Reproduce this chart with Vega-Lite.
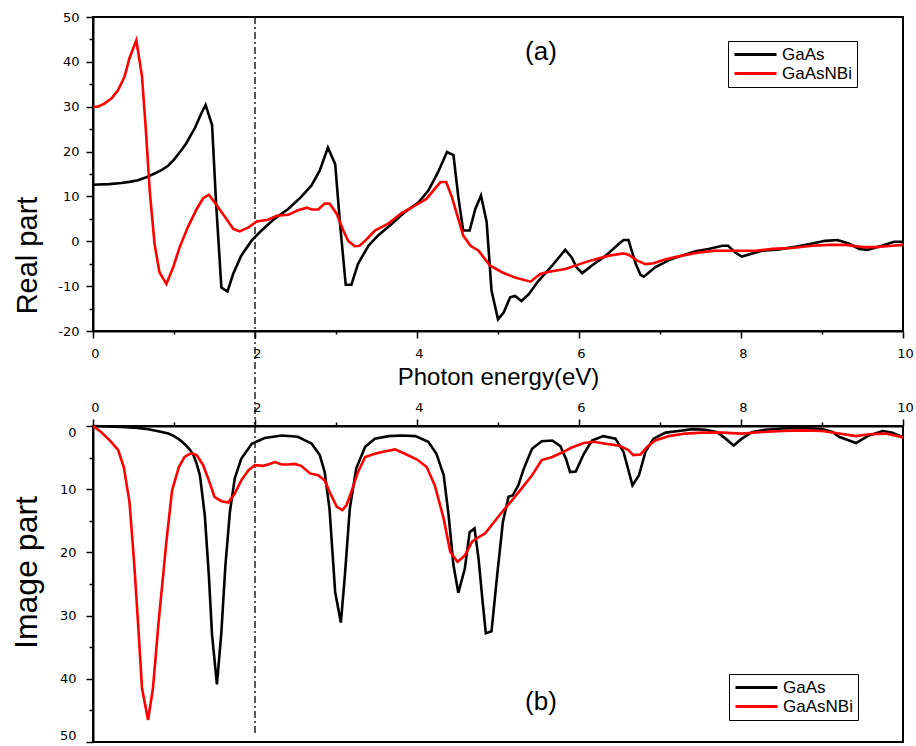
{
  "$schema": "https://vega.github.io/schema/vega-lite/v6.json",
  "padding": {"left": 8, "top": 10, "right": 6, "bottom": 2},
  "background": "white",
  "bounds": "flush",
  "spacing": 95,
  "resolve": {"legend": {"color": "independent"}, "scale": {"y": "independent"}},
  "config": {
    "view": {"stroke": "black", "strokeWidth": 2},
    "axis": {
      "domainColor": "black", "domainWidth": 2, "tickColor": "black", "tickWidth": 1.5,
      "labelColor": "black", "labelFont": "DejaVu Sans", "labelFontSize": 13,
      "titleColor": "black", "titleFont": "Liberation Sans", "titleFontWeight": "normal",
      "grid": false, "labelOverlap": false
    },
    "legend": {
      "orient": "none", "title": null, "symbolType": "M-3,0H3", "symbolSize": 196,
      "symbolOffset": 14, "symbolStrokeWidth": 3, "labelFont": "Liberation Sans", "labelFontSize": 17,
      "labelColor": "black", "strokeColor": "black", "fillColor": "white",
      "padding": 5, "rowPadding": 1, "labelOffset": 18
    }
  },
  "datasets": {
    "real": [
      {"x":0,"y":12.6,"m":"GaAs"},{"x":0.2,"y":12.75,"m":"GaAs"},{"x":0.35,"y":13.0,"m":"GaAs"},{"x":0.45,"y":13.25,"m":"GaAs"},{"x":0.556,"y":13.6,"m":"GaAs"},{"x":0.65,"y":14.2,"m":"GaAs"},{"x":0.76,"y":15.1,"m":"GaAs"},{"x":0.85,"y":15.9,"m":"GaAs"},{"x":0.93,"y":16.9,"m":"GaAs"},{"x":1.0,"y":18.2,"m":"GaAs"},{"x":1.09,"y":20.3,"m":"GaAs"},{"x":1.15,"y":21.8,"m":"GaAs"},{"x":1.21,"y":23.7,"m":"GaAs"},{"x":1.26,"y":25.3,"m":"GaAs"},{"x":1.30,"y":27.0,"m":"GaAs"},{"x":1.34,"y":28.6,"m":"GaAs"},{"x":1.39,"y":30.4,"m":"GaAs"},{"x":1.47,"y":25.9,"m":"GaAs"},{"x":1.52,"y":8.4,"m":"GaAs"},{"x":1.585,"y":-10.3,"m":"GaAs"},{"x":1.66,"y":-11.2,"m":"GaAs"},{"x":1.73,"y":-7.3,"m":"GaAs"},{"x":1.83,"y":-3.2,"m":"GaAs"},{"x":1.96,"y":0.2,"m":"GaAs"},{"x":2.08,"y":2.4,"m":"GaAs"},{"x":2.24,"y":5.0,"m":"GaAs"},{"x":2.41,"y":7.2,"m":"GaAs"},{"x":2.57,"y":9.9,"m":"GaAs"},{"x":2.70,"y":12.5,"m":"GaAs"},{"x":2.80,"y":15.8,"m":"GaAs"},{"x":2.90,"y":20.9,"m":"GaAs"},{"x":2.99,"y":17.2,"m":"GaAs"},{"x":3.05,"y":3.9,"m":"GaAs"},{"x":3.12,"y":-9.7,"m":"GaAs"},{"x":3.19,"y":-9.7,"m":"GaAs"},{"x":3.27,"y":-5.1,"m":"GaAs"},{"x":3.40,"y":-1.0,"m":"GaAs"},{"x":3.52,"y":1.3,"m":"GaAs"},{"x":3.69,"y":3.9,"m":"GaAs"},{"x":3.85,"y":6.5,"m":"GaAs"},{"x":4.02,"y":8.7,"m":"GaAs"},{"x":4.14,"y":11.3,"m":"GaAs"},{"x":4.26,"y":15.4,"m":"GaAs"},{"x":4.37,"y":19.9,"m":"GaAs"},{"x":4.45,"y":19.2,"m":"GaAs"},{"x":4.51,"y":9.9,"m":"GaAs"},{"x":4.57,"y":2.4,"m":"GaAs"},{"x":4.65,"y":2.4,"m":"GaAs"},{"x":4.72,"y":7.2,"m":"GaAs"},{"x":4.79,"y":10.2,"m":"GaAs"},{"x":4.86,"y":4.3,"m":"GaAs"},{"x":4.92,"y":-11.0,"m":"GaAs"},{"x":5.00,"y":-17.4,"m":"GaAs"},{"x":5.07,"y":-15.9,"m":"GaAs"},{"x":5.15,"y":-12.5,"m":"GaAs"},{"x":5.21,"y":-12.2,"m":"GaAs"},{"x":5.29,"y":-13.3,"m":"GaAs"},{"x":5.38,"y":-11.8,"m":"GaAs"},{"x":5.50,"y":-8.8,"m":"GaAs"},{"x":5.67,"y":-5.4,"m":"GaAs"},{"x":5.83,"y":-1.9,"m":"GaAs"},{"x":5.91,"y":-3.6,"m":"GaAs"},{"x":5.97,"y":-5.8,"m":"GaAs"},{"x":6.04,"y":-7.1,"m":"GaAs"},{"x":6.16,"y":-5.4,"m":"GaAs"},{"x":6.33,"y":-3.2,"m":"GaAs"},{"x":6.49,"y":-0.6,"m":"GaAs"},{"x":6.55,"y":0.3,"m":"GaAs"},{"x":6.61,"y":0.3,"m":"GaAs"},{"x":6.70,"y":-5.0,"m":"GaAs"},{"x":6.76,"y":-7.5,"m":"GaAs"},{"x":6.80,"y":-7.9,"m":"GaAs"},{"x":6.94,"y":-5.8,"m":"GaAs"},{"x":7.11,"y":-4.2,"m":"GaAs"},{"x":7.27,"y":-3.2,"m":"GaAs"},{"x":7.44,"y":-2.2,"m":"GaAs"},{"x":7.60,"y":-1.7,"m":"GaAs"},{"x":7.77,"y":-1.0,"m":"GaAs"},{"x":7.84,"y":-1.0,"m":"GaAs"},{"x":7.93,"y":-2.5,"m":"GaAs"},{"x":8.01,"y":-3.4,"m":"GaAs"},{"x":8.14,"y":-2.7,"m":"GaAs"},{"x":8.26,"y":-2.1,"m":"GaAs"},{"x":8.47,"y":-1.8,"m":"GaAs"},{"x":8.67,"y":-1.2,"m":"GaAs"},{"x":8.88,"y":-0.5,"m":"GaAs"},{"x":9.04,"y":0.1,"m":"GaAs"},{"x":9.19,"y":0.3,"m":"GaAs"},{"x":9.33,"y":-0.5,"m":"GaAs"},{"x":9.46,"y":-1.7,"m":"GaAs"},{"x":9.56,"y":-1.9,"m":"GaAs"},{"x":9.74,"y":-1.0,"m":"GaAs"},{"x":9.89,"y":-0.1,"m":"GaAs"},{"x":10.0,"y":-0.1,"m":"GaAs"},
      {"x":0,"y":30.0,"m":"GaAsNBi"},{"x":0.06,"y":30.0,"m":"GaAsNBi"},{"x":0.14,"y":30.7,"m":"GaAsNBi"},{"x":0.23,"y":31.9,"m":"GaAsNBi"},{"x":0.31,"y":33.7,"m":"GaAsNBi"},{"x":0.39,"y":36.7,"m":"GaAsNBi"},{"x":0.45,"y":40.8,"m":"GaAsNBi"},{"x":0.535,"y":44.8,"m":"GaAsNBi"},{"x":0.605,"y":36.7,"m":"GaAsNBi"},{"x":0.65,"y":25.5,"m":"GaAsNBi"},{"x":0.70,"y":11.3,"m":"GaAsNBi"},{"x":0.76,"y":-0.6,"m":"GaAsNBi"},{"x":0.82,"y":-6.9,"m":"GaAsNBi"},{"x":0.906,"y":-9.5,"m":"GaAsNBi"},{"x":0.99,"y":-5.8,"m":"GaAsNBi"},{"x":1.07,"y":-1.3,"m":"GaAsNBi"},{"x":1.17,"y":3.1,"m":"GaAsNBi"},{"x":1.28,"y":7.2,"m":"GaAsNBi"},{"x":1.36,"y":9.6,"m":"GaAsNBi"},{"x":1.43,"y":10.4,"m":"GaAsNBi"},{"x":1.50,"y":8.7,"m":"GaAsNBi"},{"x":1.63,"y":5.4,"m":"GaAsNBi"},{"x":1.73,"y":2.8,"m":"GaAsNBi"},{"x":1.81,"y":2.2,"m":"GaAsNBi"},{"x":1.92,"y":3.1,"m":"GaAsNBi"},{"x":2.02,"y":4.4,"m":"GaAsNBi"},{"x":2.16,"y":4.8,"m":"GaAsNBi"},{"x":2.27,"y":5.7,"m":"GaAsNBi"},{"x":2.41,"y":5.9,"m":"GaAsNBi"},{"x":2.53,"y":6.9,"m":"GaAsNBi"},{"x":2.64,"y":7.5,"m":"GaAsNBi"},{"x":2.70,"y":7.1,"m":"GaAsNBi"},{"x":2.78,"y":7.1,"m":"GaAsNBi"},{"x":2.86,"y":8.4,"m":"GaAsNBi"},{"x":2.92,"y":8.4,"m":"GaAsNBi"},{"x":3.01,"y":6.1,"m":"GaAsNBi"},{"x":3.09,"y":2.4,"m":"GaAsNBi"},{"x":3.15,"y":0.1,"m":"GaAsNBi"},{"x":3.23,"y":-1.1,"m":"GaAsNBi"},{"x":3.29,"y":-1.0,"m":"GaAsNBi"},{"x":3.36,"y":0.1,"m":"GaAsNBi"},{"x":3.48,"y":2.4,"m":"GaAsNBi"},{"x":3.65,"y":4.0,"m":"GaAsNBi"},{"x":3.81,"y":6.3,"m":"GaAsNBi"},{"x":3.98,"y":8.0,"m":"GaAsNBi"},{"x":4.12,"y":9.5,"m":"GaAsNBi"},{"x":4.20,"y":11.3,"m":"GaAsNBi"},{"x":4.29,"y":13.2,"m":"GaAsNBi"},{"x":4.36,"y":13.2,"m":"GaAsNBi"},{"x":4.43,"y":9.9,"m":"GaAsNBi"},{"x":4.51,"y":5.0,"m":"GaAsNBi"},{"x":4.57,"y":1.3,"m":"GaAsNBi"},{"x":4.66,"y":-1.0,"m":"GaAsNBi"},{"x":4.76,"y":-2.1,"m":"GaAsNBi"},{"x":4.90,"y":-5.4,"m":"GaAsNBi"},{"x":5.05,"y":-6.9,"m":"GaAsNBi"},{"x":5.21,"y":-8.1,"m":"GaAsNBi"},{"x":5.40,"y":-9.0,"m":"GaAsNBi"},{"x":5.52,"y":-7.3,"m":"GaAsNBi"},{"x":5.63,"y":-6.8,"m":"GaAsNBi"},{"x":5.83,"y":-6.2,"m":"GaAsNBi"},{"x":5.99,"y":-5.2,"m":"GaAsNBi"},{"x":6.16,"y":-4.2,"m":"GaAsNBi"},{"x":6.37,"y":-3.2,"m":"GaAsNBi"},{"x":6.55,"y":-2.7,"m":"GaAsNBi"},{"x":6.61,"y":-3.0,"m":"GaAsNBi"},{"x":6.72,"y":-4.3,"m":"GaAsNBi"},{"x":6.82,"y":-5.1,"m":"GaAsNBi"},{"x":6.92,"y":-4.9,"m":"GaAsNBi"},{"x":7.07,"y":-4.0,"m":"GaAsNBi"},{"x":7.27,"y":-3.2,"m":"GaAsNBi"},{"x":7.48,"y":-2.5,"m":"GaAsNBi"},{"x":7.68,"y":-2.1,"m":"GaAsNBi"},{"x":7.93,"y":-2.1,"m":"GaAsNBi"},{"x":8.18,"y":-2.1,"m":"GaAsNBi"},{"x":8.39,"y":-1.7,"m":"GaAsNBi"},{"x":8.63,"y":-1.5,"m":"GaAsNBi"},{"x":8.88,"y":-1.0,"m":"GaAsNBi"},{"x":9.09,"y":-0.8,"m":"GaAsNBi"},{"x":9.29,"y":-0.8,"m":"GaAsNBi"},{"x":9.50,"y":-1.3,"m":"GaAsNBi"},{"x":9.66,"y":-1.3,"m":"GaAsNBi"},{"x":9.87,"y":-1.0,"m":"GaAsNBi"},{"x":10.0,"y":-0.8,"m":"GaAsNBi"}
    ],
    "imag": [
      {"x":0,"y":0,"m":"GaAs"},{"x":0.2,"y":0.08,"m":"GaAs"},{"x":0.35,"y":0.16,"m":"GaAs"},{"x":0.5,"y":0.25,"m":"GaAs"},{"x":0.65,"y":0.45,"m":"GaAs"},{"x":0.76,"y":0.7,"m":"GaAs"},{"x":0.85,"y":0.95,"m":"GaAs"},{"x":0.93,"y":1.2,"m":"GaAs"},{"x":1.0,"y":1.6,"m":"GaAs"},{"x":1.05,"y":2.0,"m":"GaAs"},{"x":1.1,"y":2.5,"m":"GaAs"},{"x":1.15,"y":3.1,"m":"GaAs"},{"x":1.2,"y":3.8,"m":"GaAs"},{"x":1.24,"y":4.6,"m":"GaAs"},{"x":1.28,"y":6.0,"m":"GaAs"},{"x":1.32,"y":7.8,"m":"GaAs"},{"x":1.38,"y":14.1,"m":"GaAs"},{"x":1.43,"y":23.6,"m":"GaAs"},{"x":1.47,"y":33.1,"m":"GaAs"},{"x":1.53,"y":40.9,"m":"GaAs"},{"x":1.585,"y":32.6,"m":"GaAs"},{"x":1.635,"y":22.0,"m":"GaAs"},{"x":1.69,"y":13.6,"m":"GaAs"},{"x":1.75,"y":8.3,"m":"GaAs"},{"x":1.83,"y":5.2,"m":"GaAs"},{"x":1.96,"y":2.8,"m":"GaAs"},{"x":2.12,"y":1.9,"m":"GaAs"},{"x":2.33,"y":1.5,"m":"GaAs"},{"x":2.53,"y":1.7,"m":"GaAs"},{"x":2.70,"y":2.8,"m":"GaAs"},{"x":2.80,"y":4.6,"m":"GaAs"},{"x":2.86,"y":7.3,"m":"GaAs"},{"x":2.92,"y":13.1,"m":"GaAs"},{"x":2.99,"y":26.3,"m":"GaAs"},{"x":3.06,"y":31.1,"m":"GaAs"},{"x":3.11,"y":23.6,"m":"GaAs"},{"x":3.17,"y":13.1,"m":"GaAs"},{"x":3.25,"y":6.7,"m":"GaAs"},{"x":3.36,"y":3.3,"m":"GaAs"},{"x":3.48,"y":2.0,"m":"GaAs"},{"x":3.65,"y":1.6,"m":"GaAs"},{"x":3.81,"y":1.5,"m":"GaAs"},{"x":3.98,"y":1.6,"m":"GaAs"},{"x":4.14,"y":2.5,"m":"GaAs"},{"x":4.24,"y":4.4,"m":"GaAs"},{"x":4.33,"y":7.8,"m":"GaAs"},{"x":4.39,"y":14.1,"m":"GaAs"},{"x":4.45,"y":22.0,"m":"GaAs"},{"x":4.51,"y":26.4,"m":"GaAs"},{"x":4.59,"y":22.6,"m":"GaAs"},{"x":4.65,"y":16.8,"m":"GaAs"},{"x":4.71,"y":16.2,"m":"GaAs"},{"x":4.76,"y":21.0,"m":"GaAs"},{"x":4.81,"y":27.8,"m":"GaAs"},{"x":4.85,"y":32.8,"m":"GaAs"},{"x":4.92,"y":32.5,"m":"GaAs"},{"x":4.99,"y":23.6,"m":"GaAs"},{"x":5.06,"y":15.2,"m":"GaAs"},{"x":5.13,"y":11.2,"m":"GaAs"},{"x":5.18,"y":11.0,"m":"GaAs"},{"x":5.25,"y":9.4,"m":"GaAs"},{"x":5.32,"y":6.7,"m":"GaAs"},{"x":5.42,"y":3.6,"m":"GaAs"},{"x":5.54,"y":2.4,"m":"GaAs"},{"x":5.67,"y":2.3,"m":"GaAs"},{"x":5.77,"y":3.2,"m":"GaAs"},{"x":5.84,"y":5.2,"m":"GaAs"},{"x":5.89,"y":7.3,"m":"GaAs"},{"x":5.96,"y":7.2,"m":"GaAs"},{"x":6.06,"y":4.4,"m":"GaAs"},{"x":6.16,"y":2.3,"m":"GaAs"},{"x":6.30,"y":1.6,"m":"GaAs"},{"x":6.45,"y":2.0,"m":"GaAs"},{"x":6.55,"y":4.1,"m":"GaAs"},{"x":6.66,"y":9.4,"m":"GaAs"},{"x":6.74,"y":7.8,"m":"GaAs"},{"x":6.82,"y":4.1,"m":"GaAs"},{"x":6.92,"y":2.0,"m":"GaAs"},{"x":7.07,"y":1.05,"m":"GaAs"},{"x":7.23,"y":0.8,"m":"GaAs"},{"x":7.40,"y":0.5,"m":"GaAs"},{"x":7.56,"y":0.6,"m":"GaAs"},{"x":7.70,"y":0.95,"m":"GaAs"},{"x":7.81,"y":2.0,"m":"GaAs"},{"x":7.91,"y":3.1,"m":"GaAs"},{"x":8.01,"y":2.0,"m":"GaAs"},{"x":8.14,"y":0.95,"m":"GaAs"},{"x":8.30,"y":0.6,"m":"GaAs"},{"x":8.51,"y":0.4,"m":"GaAs"},{"x":8.76,"y":0.3,"m":"GaAs"},{"x":9.0,"y":0.5,"m":"GaAs"},{"x":9.13,"y":0.95,"m":"GaAs"},{"x":9.21,"y":1.7,"m":"GaAs"},{"x":9.42,"y":2.7,"m":"GaAs"},{"x":9.58,"y":1.5,"m":"GaAs"},{"x":9.75,"y":0.8,"m":"GaAs"},{"x":9.87,"y":1.05,"m":"GaAs"},{"x":10.0,"y":1.8,"m":"GaAs"},
      {"x":0,"y":0,"m":"GaAsNBi"},{"x":0.10,"y":0.95,"m":"GaAsNBi"},{"x":0.21,"y":2.3,"m":"GaAsNBi"},{"x":0.31,"y":3.8,"m":"GaAsNBi"},{"x":0.38,"y":6.5,"m":"GaAsNBi"},{"x":0.45,"y":12.0,"m":"GaAsNBi"},{"x":0.51,"y":22.0,"m":"GaAsNBi"},{"x":0.56,"y":32.0,"m":"GaAsNBi"},{"x":0.605,"y":41.5,"m":"GaAsNBi"},{"x":0.68,"y":46.5,"m":"GaAsNBi"},{"x":0.74,"y":41.5,"m":"GaAsNBi"},{"x":0.81,"y":31.0,"m":"GaAsNBi"},{"x":0.906,"y":18.3,"m":"GaAsNBi"},{"x":0.976,"y":10.2,"m":"GaAsNBi"},{"x":1.06,"y":6.5,"m":"GaAsNBi"},{"x":1.13,"y":4.9,"m":"GaAsNBi"},{"x":1.215,"y":4.3,"m":"GaAsNBi"},{"x":1.28,"y":4.6,"m":"GaAsNBi"},{"x":1.36,"y":6.2,"m":"GaAsNBi"},{"x":1.43,"y":8.6,"m":"GaAsNBi"},{"x":1.50,"y":11.2,"m":"GaAsNBi"},{"x":1.585,"y":11.9,"m":"GaAsNBi"},{"x":1.67,"y":12.1,"m":"GaAsNBi"},{"x":1.75,"y":10.7,"m":"GaAsNBi"},{"x":1.83,"y":8.6,"m":"GaAsNBi"},{"x":1.92,"y":7.0,"m":"GaAsNBi"},{"x":2.0,"y":6.2,"m":"GaAsNBi"},{"x":2.10,"y":6.3,"m":"GaAsNBi"},{"x":2.18,"y":6.0,"m":"GaAsNBi"},{"x":2.245,"y":5.7,"m":"GaAsNBi"},{"x":2.33,"y":6.1,"m":"GaAsNBi"},{"x":2.41,"y":6.1,"m":"GaAsNBi"},{"x":2.49,"y":6.0,"m":"GaAsNBi"},{"x":2.57,"y":6.3,"m":"GaAsNBi"},{"x":2.68,"y":7.5,"m":"GaAsNBi"},{"x":2.78,"y":7.8,"m":"GaAsNBi"},{"x":2.86,"y":8.6,"m":"GaAsNBi"},{"x":2.92,"y":10.4,"m":"GaAsNBi"},{"x":3.01,"y":12.8,"m":"GaAsNBi"},{"x":3.08,"y":13.3,"m":"GaAsNBi"},{"x":3.13,"y":12.5,"m":"GaAsNBi"},{"x":3.19,"y":10.4,"m":"GaAsNBi"},{"x":3.27,"y":7.3,"m":"GaAsNBi"},{"x":3.36,"y":4.9,"m":"GaAsNBi"},{"x":3.48,"y":4.4,"m":"GaAsNBi"},{"x":3.61,"y":4.0,"m":"GaAsNBi"},{"x":3.73,"y":3.7,"m":"GaAsNBi"},{"x":3.85,"y":4.4,"m":"GaAsNBi"},{"x":4.0,"y":5.3,"m":"GaAsNBi"},{"x":4.12,"y":6.5,"m":"GaAsNBi"},{"x":4.22,"y":9.4,"m":"GaAsNBi"},{"x":4.33,"y":14.7,"m":"GaAsNBi"},{"x":4.41,"y":19.9,"m":"GaAsNBi"},{"x":4.50,"y":21.5,"m":"GaAsNBi"},{"x":4.59,"y":20.5,"m":"GaAsNBi"},{"x":4.68,"y":18.3,"m":"GaAsNBi"},{"x":4.76,"y":17.6,"m":"GaAsNBi"},{"x":4.84,"y":17.0,"m":"GaAsNBi"},{"x":4.92,"y":15.7,"m":"GaAsNBi"},{"x":5.05,"y":13.6,"m":"GaAsNBi"},{"x":5.17,"y":11.8,"m":"GaAsNBi"},{"x":5.29,"y":9.9,"m":"GaAsNBi"},{"x":5.42,"y":7.8,"m":"GaAsNBi"},{"x":5.54,"y":5.4,"m":"GaAsNBi"},{"x":5.67,"y":4.9,"m":"GaAsNBi"},{"x":5.79,"y":4.2,"m":"GaAsNBi"},{"x":5.91,"y":3.4,"m":"GaAsNBi"},{"x":6.06,"y":2.7,"m":"GaAsNBi"},{"x":6.18,"y":2.5,"m":"GaAsNBi"},{"x":6.33,"y":2.8,"m":"GaAsNBi"},{"x":6.49,"y":3.1,"m":"GaAsNBi"},{"x":6.61,"y":3.8,"m":"GaAsNBi"},{"x":6.67,"y":4.6,"m":"GaAsNBi"},{"x":6.76,"y":4.5,"m":"GaAsNBi"},{"x":6.84,"y":3.3,"m":"GaAsNBi"},{"x":6.94,"y":2.3,"m":"GaAsNBi"},{"x":7.11,"y":1.6,"m":"GaAsNBi"},{"x":7.31,"y":1.2,"m":"GaAsNBi"},{"x":7.52,"y":1.05,"m":"GaAsNBi"},{"x":7.77,"y":1.05,"m":"GaAsNBi"},{"x":8.01,"y":1.2,"m":"GaAsNBi"},{"x":8.26,"y":0.95,"m":"GaAsNBi"},{"x":8.51,"y":0.8,"m":"GaAsNBi"},{"x":8.76,"y":0.7,"m":"GaAsNBi"},{"x":9.0,"y":0.8,"m":"GaAsNBi"},{"x":9.21,"y":1.2,"m":"GaAsNBi"},{"x":9.42,"y":1.6,"m":"GaAsNBi"},{"x":9.58,"y":1.3,"m":"GaAsNBi"},{"x":9.79,"y":1.2,"m":"GaAsNBi"},{"x":10.0,"y":1.8,"m":"GaAsNBi"}
    ]
  },
  "vconcat": [
    {
      "width": 810,
      "height": 314,
      "encoding": {
        "x": {
          "field": "x", "type": "quantitative",
          "scale": {"domain": [0, 10], "nice": false},
          "axis": {
            "values": [0,1,2,3,4,5,6,7,8,9,10],
            "labelExpr": "datum.value % 2 === 0 ? '' + datum.value : ''",
            "tickSize": {"condition": {"test": "datum.value % 2 === 0", "value": 7}, "value": 3},
            "labelPadding": 9, "labelFlush": false, "labelOffset": 2,
            "title": "Photon energy(eV)", "titleFontSize": 24,
            "titleY": 53, "titleBaseline": "alphabetic"
          }
        },
        "y": {
          "field": "y", "type": "quantitative",
          "scale": {"domain": [-20, 50], "nice": false, "zero": false},
          "axis": {
            "values": [-20,-15,-10,-5,0,5,10,15,20,25,30,35,40,45,50],
            "labelExpr": "datum.value % 10 === 0 ? '' + datum.value : ''",
            "tickSize": {"condition": {"test": "datum.value % 10 === 0", "value": 7}, "value": 4},
            "labelPadding": 7, "labelFlush": false,
            "title": "Real part", "titleFontSize": 29,
            "titleX": -57, "titleY": 238, "titleBaseline": "alphabetic", "titleAlign": "center", "titleAngle": -90
          }
        }
      },
      "layer": [
        {
          "data": {"values": [{"x": 2, "y": 50, "y2": -41.2}]},
          "mark": {"type": "rule", "color": "black", "strokeWidth": 1.3, "strokeDash": [7, 3, 2, 3], "clip": false},
          "encoding": {"y2": {"field": "y2"}}
        },
        {
          "data": {"name": "real"},
          "mark": {"type": "line", "strokeWidth": 2.6},
          "encoding": {
            "color": {
              "field": "m", "type": "nominal",
              "scale": {"domain": ["GaAs", "GaAsNBi"], "range": ["#000000", "#ff0000"]},
              "legend": {"legendX": 635, "legendY": 24}
            }
          }
        },
        {
          "data": {"values": [{"x": 5.53, "y": 42.2, "t": "(a)"}]},
          "mark": {"type": "text", "font": "Liberation Sans", "fontSize": 26, "color": "black", "baseline": "middle"},
          "encoding": {"text": {"field": "t"}}
        }
      ]
    },
    {
      "width": 810,
      "height": 316,
      "encoding": {
        "x": {
          "field": "x", "type": "quantitative",
          "scale": {"domain": [0, 10], "nice": false},
          "axis": {
            "orient": "top",
            "values": [0,1,2,3,4,5,6,7,8,9,10],
            "labelExpr": "datum.value % 2 === 0 ? '' + datum.value : ''",
            "tickSize": {"condition": {"test": "datum.value % 2 === 0", "value": 7}, "value": 4},
            "labelPadding": 5, "labelFlush": false, "labelOffset": 2,
            "title": null
          }
        },
        "y": {
          "field": "y", "type": "quantitative",
          "scale": {"domain": [0, 50], "nice": false, "reverse": true},
          "axis": {
            "values": [0,5,10,15,20,25,30,35,40,45,50],
            "labelExpr": "datum.value % 10 === 0 ? '' + datum.value : ''",
            "tickSize": {"condition": {"test": "datum.value % 10 === 0", "value": 7}, "value": 4},
            "labelPadding": 10, "labelFlush": true,
            "title": "Image part", "titleFontSize": 32,
            "titleX": -57, "titleY": 146, "titleBaseline": "alphabetic", "titleAlign": "center", "titleAngle": -90
          }
        }
      },
      "layer": [
        {
          "data": {"values": [{"x": 2, "y": 0, "y2": 48.6}]},
          "mark": {"type": "rule", "color": "black", "strokeWidth": 1.3, "strokeDash": [7, 3, 2, 3], "clip": false},
          "encoding": {"y2": {"field": "y2"}}
        },
        {
          "data": {"name": "imag"},
          "mark": {"type": "line", "strokeWidth": 2.6},
          "encoding": {
            "color": {
              "field": "m", "type": "nominal",
              "scale": {"domain": ["GaAs", "GaAsNBi"], "range": ["#000000", "#ff0000"]},
              "legend": {"legendX": 636, "legendY": 248}
            }
          }
        },
        {
          "data": {"values": [{"x": 5.53, "y": 43.7, "t": "(b)"}]},
          "mark": {"type": "text", "font": "Liberation Sans", "fontSize": 26, "color": "black", "baseline": "middle"},
          "encoding": {"text": {"field": "t"}}
        }
      ]
    }
  ]
}
